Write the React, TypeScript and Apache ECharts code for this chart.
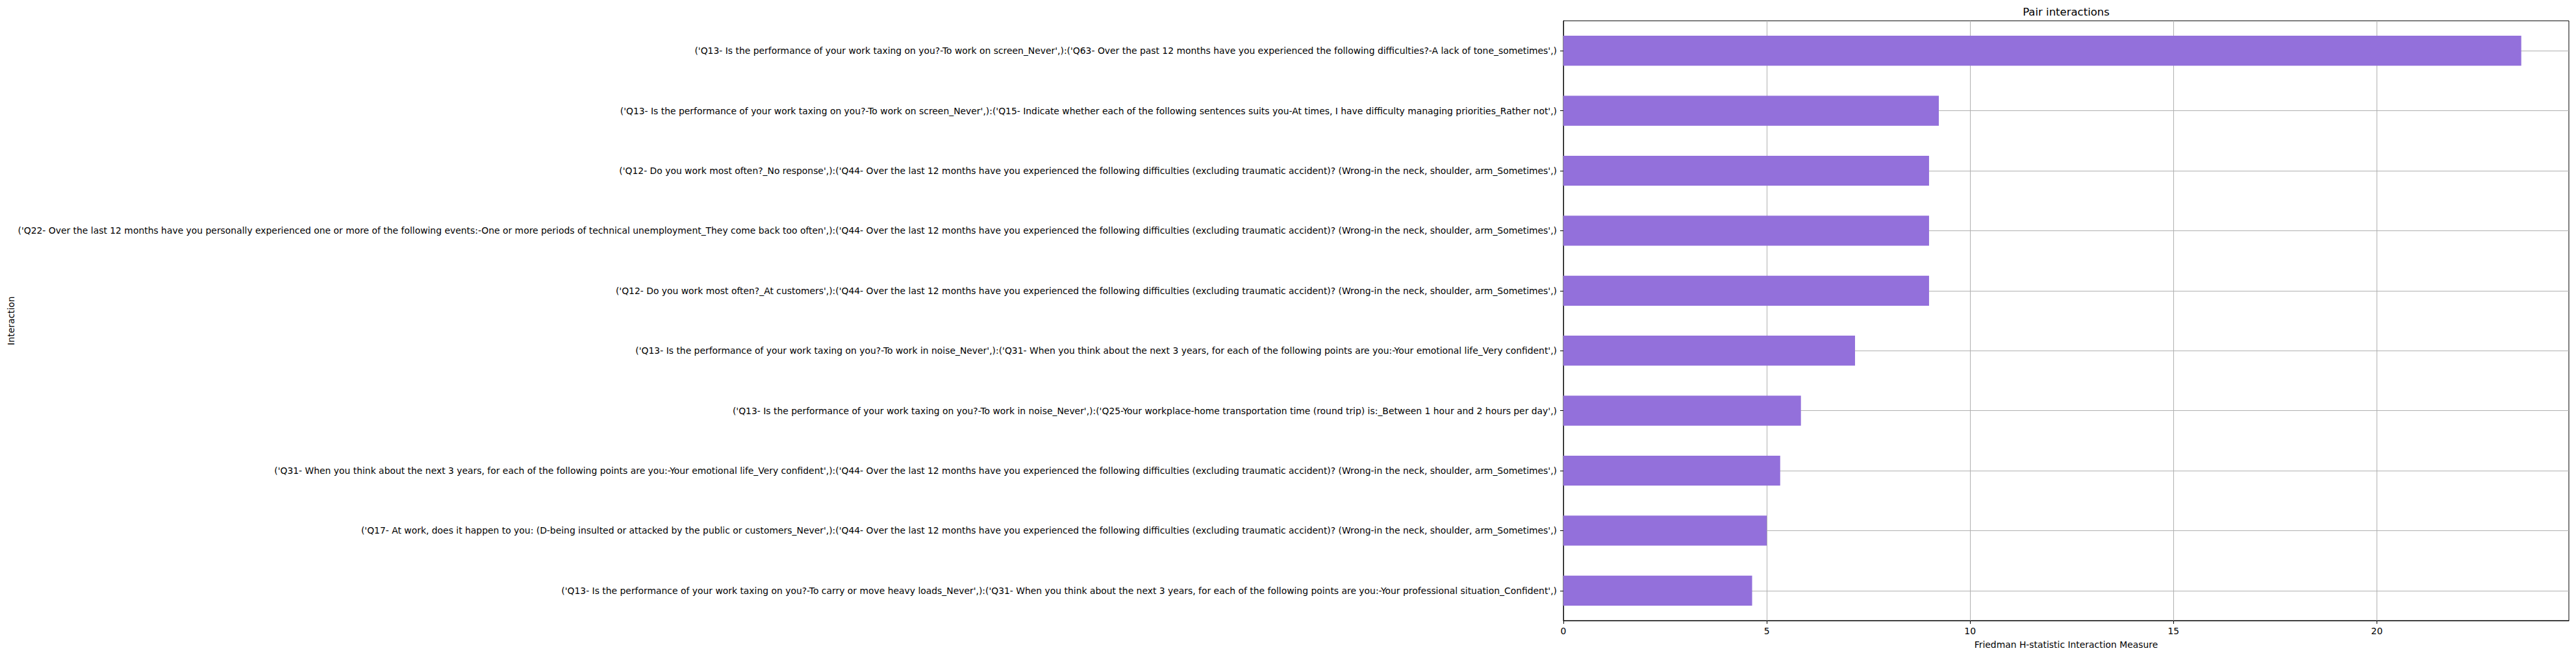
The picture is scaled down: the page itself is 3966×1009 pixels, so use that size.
import React, { useEffect, useRef } from "react";
import * as echarts from "echarts";

const categories: string[] = [
  "('Q13- Is the performance of your work taxing on you?-To work on screen_Never',):('Q63- Over the past 12 months have you experienced the following difficulties?-A lack of tone_sometimes',)",
  "('Q13- Is the performance of your work taxing on you?-To work on screen_Never',):('Q15- Indicate whether each of the following sentences suits you-At times, I have difficulty managing priorities_Rather not',)",
  "('Q12- Do you work most often?_No response',):('Q44- Over the last 12 months have you experienced the following difficulties (excluding traumatic accident)? (Wrong-in the neck, shoulder, arm_Sometimes',)",
  "('Q22- Over the last 12 months have you personally experienced one or more of the following events:-One or more periods of technical unemployment_They come back too often',):('Q44- Over the last 12 months have you experienced the following difficulties (excluding traumatic accident)? (Wrong-in the neck, shoulder, arm_Sometimes',)",
  "('Q12- Do you work most often?_At customers',):('Q44- Over the last 12 months have you experienced the following difficulties (excluding traumatic accident)? (Wrong-in the neck, shoulder, arm_Sometimes',)",
  "('Q13- Is the performance of your work taxing on you?-To work in noise_Never',):('Q31- When you think about the next 3 years, for each of the following points are you:-Your emotional life_Very confident',)",
  "('Q13- Is the performance of your work taxing on you?-To work in noise_Never',):('Q25-Your workplace-home transportation time (round trip) is:_Between 1 hour and 2 hours per day',)",
  "('Q31- When you think about the next 3 years, for each of the following points are you:-Your emotional life_Very confident',):('Q44- Over the last 12 months have you experienced the following difficulties (excluding traumatic accident)? (Wrong-in the neck, shoulder, arm_Sometimes',)",
  "('Q17- At work, does it happen to you: (D-being insulted or attacked by the public or customers_Never',):('Q44- Over the last 12 months have you experienced the following difficulties (excluding traumatic accident)? (Wrong-in the neck, shoulder, arm_Sometimes',)",
  "('Q13- Is the performance of your work taxing on you?-To carry or move heavy loads_Never',):('Q31- When you think about the next 3 years, for each of the following points are you:-Your professional situation_Confident',)",
];

const values: number[] = [23.55, 9.23, 8.99, 8.99, 8.99, 7.17, 5.84, 5.33, 5.0, 4.64];

const xTicks: number[] = [0, 5, 10, 15, 20];

const titleText = "Pair interactions";
const xAxisTitle = "Friedman H-statistic Interaction Measure";
const yAxisTitle = "Interaction";

const FONT = "DejaVu Sans";

export default function App() {
  const ref = useRef<HTMLDivElement>(null);

  useEffect(() => {
    if (!ref.current) return;
    const chart = echarts.init(ref.current, undefined, { renderer: "svg" });
    const xMax = 24.72;
    chart.setOption({
      animation: false,
      backgroundColor: "#ffffff",
      textStyle: { fontFamily: FONT },
      grid: {
        left: 2407,
        right: 11,
        top: 32,
        bottom: 53,
        show: true,
        borderColor: "#000000",
        borderWidth: 1,
        backgroundColor: "transparent",
      },
      graphic: [
        {
          type: "text",
          x: 3181,
          y: 18,
          style: {
            text: titleText,
            fontSize: 16.5,
            fontFamily: FONT,
            fill: "#000000",
            align: "center",
            verticalAlign: "middle",
          },
        },
      ],
      xAxis: {
        type: "value",
        min: 0,
        max: xMax,
        interval: 5,
        name: xAxisTitle,
        nameLocation: "middle",
        nameGap: 30,
        nameTextStyle: { fontSize: 13.9, color: "#000000", fontFamily: FONT },
        axisLine: { show: true, lineStyle: { color: "#000000", width: 1 } },
        axisTick: {
          show: true,
          length: 5,
          customValues: xTicks,
          lineStyle: { color: "#000000", width: 1 },
        },
        axisLabel: {
          customValues: xTicks,
          fontSize: 13.9,
          color: "#000000",
          fontFamily: FONT,
          margin: 9,
        },
        splitLine: { show: true, lineStyle: { color: "#b0b0b0", width: 1 } },
      },
      yAxis: {
        type: "category",
        data: categories,
        inverse: true,
        name: yAxisTitle,
        nameLocation: "middle",
        nameGap: 2382,
        nameTextStyle: { fontSize: 13.9, color: "#000000", fontFamily: FONT },
        axisLine: { show: true, lineStyle: { color: "#000000", width: 1 } },
        axisTick: {
          show: true,
          alignWithLabel: true,
          interval: 0,
          length: 5,
          lineStyle: { color: "#000000", width: 1 },
        },
        axisLabel: {
          interval: 0,
          fontSize: 13.9,
          color: "#000000",
          fontFamily: FONT,
          margin: 10,
        },
        splitLine: {
          show: true,
          interval: 0,
          alignWithLabel: true,
          lineStyle: { color: "#b0b0b0", width: 1 },
        },
      },
      series: [
        {
          type: "bar",
          data: values,
          barWidth: "50%",
          itemStyle: { color: "#9370DB" },
          z: 2,
        },
      ],
    });
    return () => {
      chart.dispose();
    };
  }, []);

  return (
    <div
      ref={ref}
      style={{ position: "absolute", left: 0, top: 0, width: 3966, height: 1009 }}
    />
  );
}
